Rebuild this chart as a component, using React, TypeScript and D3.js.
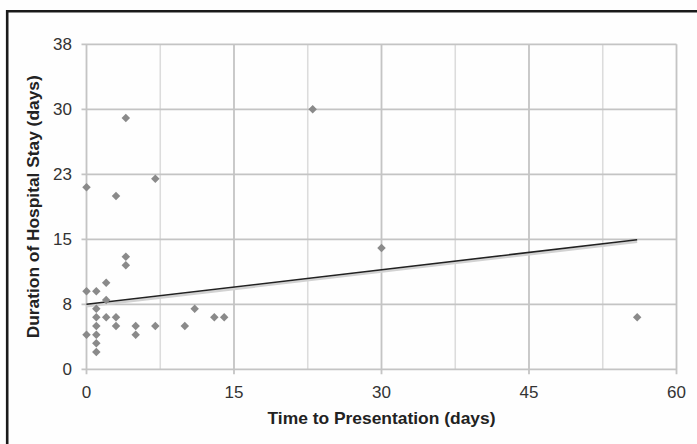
import React from "react";
import * as d3 from "d3";

const timeToPresentation = [0, 0, 0, 1, 1, 1, 1, 1, 1, 1, 2, 2, 2, 3, 3, 3, 4, 4, 4, 5, 5, 7, 7, 10, 11, 13, 14, 23, 30, 56];
const hospitalStay = [21, 9, 4, 9, 7, 6, 5, 4, 3, 2, 10, 8, 6, 20, 6, 5, 29, 13, 12, 5, 4, 22, 5, 5, 7, 6, 6, 30, 14, 6];
const trendX = [0, 56];
const trendY = [7.5, 14.95];
const xTickValues = [0, 15, 30, 45, 60];
const xTickLabels = ["0", "15", "30", "45", "60"];
const xMinorValues = [7.5, 22.5, 37.5, 52.5];
const yTickValues = [0, 7.5, 15, 22.5, 30, 37.5];
const yTickLabels = ["0", "8", "15", "23", "30", "38"];
const xTitle = "Time to Presentation (days)";
const yTitle = "Duration of Hospital Stay (days)";

const W = 697;
const H = 444;
const left = 86.5;
const right = 676.5;
const top = 44.3;
const bottom = 369.3;

export default function App() {
  const x = d3.scaleLinear().domain([0, 60]).range([left, right]);
  const y = d3.scaleLinear().domain([0, 37.5]).range([bottom, top]);
  const diamond = d3.symbol(d3.symbolSquare, 36)() as string;
  const line = d3
    .line<number>()
    .x((_, i) => x(trendX[i]))
    .y((d) => y(d));
  const font = "'Liberation Sans', Arial, sans-serif";
  const grid = "#c4c4c4";
  return (
    <svg
      width={W}
      height={H}
      style={{ position: "absolute", left: 0, top: 0, background: "#fff" }}
      fontFamily={font}
    >
      <rect x={0} y={0} width={W} height={H} fill="#fefefe" />
      {/* frame */}
      <line x1={7} y1={11.2} x2={W} y2={11.2} stroke="#1a1a1a" strokeWidth={2.6} />
      <line x1={7.2} y1={10} x2={7.2} y2={H} stroke="#1a1a1a" strokeWidth={2.6} />

      {/* minor vertical gridlines */}
      {xMinorValues.map((v) => (
        <line key={"mv" + v} x1={x(v)} x2={x(v)} y1={top} y2={bottom} stroke="#dcdcdc" strokeWidth={1.6} />
      ))}
      {/* major vertical gridlines */}
      {xTickValues.map((v) => (
        <line key={"v" + v} x1={x(v)} x2={x(v)} y1={top} y2={bottom + 5} stroke={grid} strokeWidth={1.8} />
      ))}
      {/* horizontal gridlines */}
      {yTickValues.map((v) => (
        <line key={"h" + v} x1={left - 5} x2={right} y1={y(v)} y2={y(v)} stroke={grid} strokeWidth={1.8} />
      ))}

      {/* y tick labels */}
      {yTickValues.map((v, i) => (
        <text key={"yl" + v} x={72} y={y(v)} dy="0.36em" textAnchor="end" fontSize={17} fill="#333">
          {yTickLabels[i]}
        </text>
      ))}
      {/* x tick labels */}
      {xTickValues.map((v, i) => (
        <text key={"xl" + v} x={x(v)} y={397.5} textAnchor="middle" fontSize={17} fill="#333">
          {xTickLabels[i]}
        </text>
      ))}

      {/* trend shadow + line */}
      <path d={line(trendY) as string} transform="translate(0,2)" fill="none" stroke="#d2d2d2" strokeWidth={2.4} />
      <path d={line(trendY) as string} fill="none" stroke="#222" strokeWidth={1.5} />

      {/* points */}
      {timeToPresentation.map((t, i) => (
        <path
          key={"p" + i}
          d={diamond}
          transform={`translate(${x(t)},${y(hospitalStay[i])}) rotate(45)`}
          fill="#8a8a8a"
        />
      ))}

      {/* axis titles */}
      <text
        x={(left + right) / 2}
        y={424}
        textAnchor="middle"
        fontSize={17}
        fontWeight="bold"
        fill="#222"
        textLength={228}
        lengthAdjust="spacingAndGlyphs"
      >
        {xTitle}
      </text>
      <text
        transform={`translate(39,${(top + bottom) / 2}) rotate(-90)`}
        textAnchor="middle"
        fontSize={17}
        fontWeight="bold"
        fill="#222"
        textLength={263}
        lengthAdjust="spacingAndGlyphs"
      >
        {yTitle}
      </text>
    </svg>
  );
}
